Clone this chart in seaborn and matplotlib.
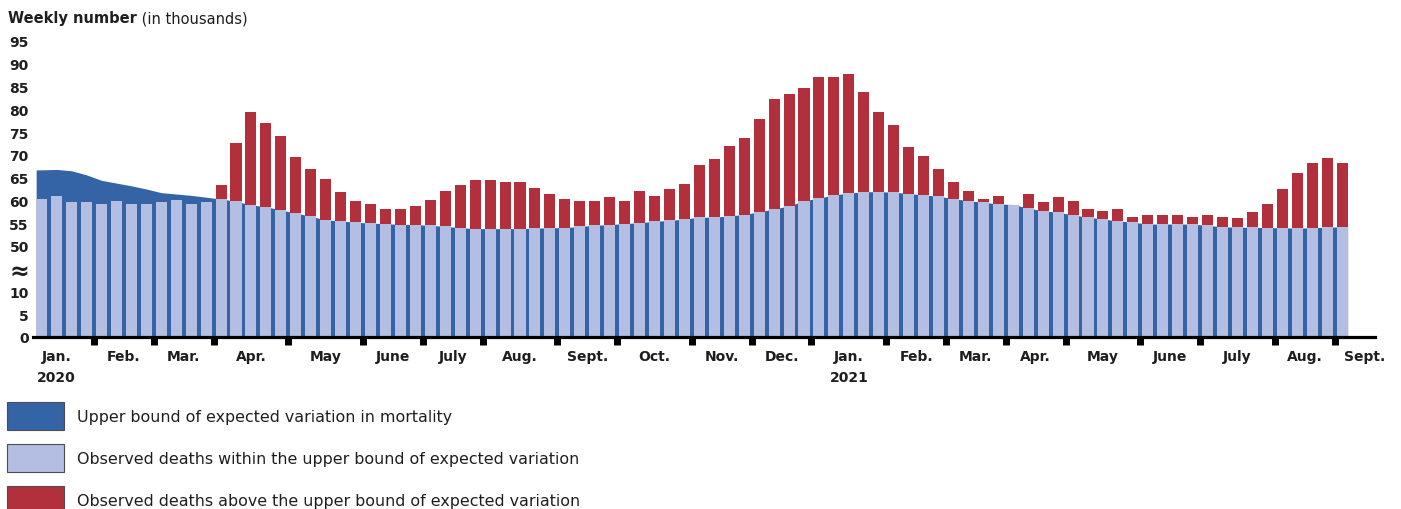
import matplotlib
matplotlib.use("Agg")
import matplotlib.pyplot as plt
import matplotlib.patches as mpatches
import seaborn as sns
import numpy as np
import pandas as pd

# weekly deaths in thousands, week 2 of 2020 to week 35 of 2021
upper_bound = [
    66.7, 66.8, 66.5, 65.6, 64.4, 63.8, 63.2, 62.5, 61.7, 61.4, 61.1, 60.7,
    60.3, 59.8, 59.0, 58.6, 57.9, 57.2, 56.5, 55.7,
    55.5, 55.2, 55.0, 54.9, 54.7, 54.7, 54.5, 54.3, 54.0, 53.8,
    53.8, 53.8, 53.8, 53.9, 54.0, 54.0, 54.3, 54.5, 54.7, 54.9,
    55.1, 55.4, 55.6, 55.9, 56.3, 56.3, 56.6, 56.9, 57.5, 58.1,
    58.8, 59.9, 60.5, 61.2, 61.6, 61.9, 61.9, 61.8, 61.5, 61.2,
    60.9, 60.4, 59.9, 59.6, 59.2, 59.1, 58.3, 57.7, 57.4, 56.8,
    56.3, 55.9, 55.5, 55.2, 54.8, 54.8, 54.8, 54.8, 54.5, 54.2,
    54.1, 54.1, 54.0, 54.0, 53.9, 54.0, 54.1, 54.2,
]
observed = [
    60.4, 61.0, 59.6, 59.6, 59.2, 59.9, 59.2, 59.2, 59.7, 60.1, 59.1, 59.7,
    63.4, 72.6, 79.5, 77.1, 74.2, 69.5, 67.0, 64.7,
    61.9, 59.9, 59.2, 58.2, 58.2, 58.8, 60.1, 62.1, 63.4, 64.5,
    64.5, 64.0, 64.0, 62.8, 61.4, 60.4, 59.9, 59.9, 60.8, 59.9,
    62.0, 60.9, 62.5, 63.6, 67.8, 69.1, 72.0, 73.6, 77.8, 82.2,
    83.3, 84.6, 87.2, 87.2, 87.7, 83.9, 79.3, 76.6, 71.8, 69.7,
    66.9, 64.0, 62.0, 60.4, 61.0, 58.9, 61.4, 59.6, 60.7, 59.9,
    58.1, 57.6, 58.0, 56.3, 56.8, 56.7, 56.7, 56.3, 56.8, 56.3,
    56.1, 57.5, 59.3, 62.6, 66.0, 68.3, 69.3, 68.3,
]

months = ["Jan.", "Feb.", "Mar.", "Apr.", "May", "June", "July", "Aug.",
          "Sept.", "Oct.", "Nov.", "Dec.",
          "Jan.", "Feb.", "Mar.", "Apr.", "May", "June", "July", "Aug.", "Sept."]
month_weeks = [5, 4, 4, 5, 5, 4, 4, 5, 4, 5, 4, 4,
               5, 4, 4, 4, 5, 4, 5, 4, 4]
year_labels = {0: "2020", 12: "2021"}

y_ticks = [0, 5, 10, 15, 50, 55, 60, 65, 70, 75, 80, 85, 90, 95]
y_labels = ["0", "5", "10", "≈", "50", "55", "60", "65", "70", "75", "80",
            "85", "90", "95"]

legend_labels = [
    "Upper bound of expected variation in mortality",
    "Observed deaths within the upper bound of expected variation",
    "Observed deaths above the upper bound of expected variation",
]

DARK = "#3463a6"
LIGHT = "#b4bee2"
RED = "#b1303b"
TEXT = "#1e1e1e"


def squash(y):
    # broken axis: 15..50 collapsed into one step
    y = np.asarray(y, dtype=float)
    return np.where(y <= 15, y, np.where(y >= 50, y - 30, 15 + (y - 15) / 7))


def unsquash(t):
    t = np.asarray(t, dtype=float)
    return np.where(t <= 15, t, np.where(t >= 20, t + 30, 15 + (t - 15) * 7))


sns.set_theme(style="white")
plt.rcParams["font.family"] = ["DejaVu Sans"]
plt.rcParams["text.color"] = TEXT

df = pd.DataFrame({"week": np.arange(len(observed)),
                   "upper": upper_bound, "observed": observed})
df["within"] = df[["observed", "upper"]].min(axis=1)
df["above"] = df["observed"].where(df["observed"] > df["upper"], 0)

fig = plt.figure(figsize=(14.01, 5.10), dpi=100)
ax = fig.add_axes([33 / 1401, 172 / 510, 1342 / 1401, 296 / 510])

bar_w = 0.74
half = bar_w / 2
xs = np.r_[df["week"].iloc[0] - half, df["week"], df["week"].iloc[-1] + half]
ys = np.r_[upper_bound[0], upper_bound, upper_bound[-1]]
ax.fill_between(xs, 0, ys, color=DARK, lw=0, zorder=1)

sns.barplot(data=df, x="week", y="above", color=RED, width=bar_w,
            saturation=1, linewidth=0, errorbar=None, zorder=2, ax=ax)
sns.barplot(data=df, x="week", y="within", color=LIGHT, width=bar_w,
            saturation=1, linewidth=0, errorbar=None, zorder=3, ax=ax)

ax.set_yscale("function", functions=(squash, unsquash))
ax.set_ylim(0, 95)
ax.set_xlim(-0.58, 89.2)
ax.set_xlabel("")
ax.set_ylabel("")

# month ticks
starts = -1 + np.r_[0, np.cumsum(month_weeks)[:-1]]
centers = starts + np.array(month_weeks) / 2 - 0.5
bounds = starts[1:] - 0.5
ax.set_xticks(bounds)
ax.set_xticklabels([])
labels = [m + ("\n" + year_labels[i] if i in year_labels else "")
          for i, m in enumerate(months)]
ax.set_xticks(centers, labels, minor=True)
ax.tick_params(axis="x", which="major", length=6, width=5, color="black",
               direction="out", bottom=True)
ax.tick_params(axis="x", which="minor", length=0, pad=9, labelsize=10,
               labelcolor=TEXT, bottom=True)
plt.setp(ax.get_xticklabels(minor=True), fontweight="bold", linespacing=1.6)

ax.set_yticks(y_ticks, y_labels)
ax.yaxis.set_minor_locator(matplotlib.ticker.NullLocator())
ax.tick_params(axis="y", length=0, pad=3, labelsize=10, labelcolor=TEXT,
               left=True)
plt.setp(ax.get_yticklabels(), fontweight="bold")
for lab in ax.get_yticklabels():
    if lab.get_text() == "≈":
        lab.set_fontsize(17)

for side in ["left", "top", "right"]:
    ax.spines[side].set_visible(False)
ax.spines["bottom"].set_linewidth(2.3)
ax.spines["bottom"].set_color("black")
ax.spines["bottom"].set_zorder(5)
ax.grid(False)

title = fig.text(8 / 1401, 1 - 26 / 510, "Weekly number", fontsize=10.5,
                 fontweight="bold", va="bottom", ha="left")
ax.annotate(" (in thousands)", xy=(1, 0), xycoords=title, va="bottom",
            ha="left", fontsize=10.5, annotation_clip=False)

handles = [
    mpatches.Patch(facecolor=DARK, edgecolor="#4d4d4d", linewidth=0.8,
                   label=legend_labels[0]),
    mpatches.Patch(facecolor=LIGHT, edgecolor="#4d4d4d", linewidth=0.8,
                   label=legend_labels[1]),
    mpatches.Patch(facecolor=RED, edgecolor="#4d4d4d", linewidth=0.8,
                   label=legend_labels[2]),
]
fig.legend(handles=handles, loc="upper left",
           bbox_to_anchor=(7 / 1401, 1 - 403 / 510), frameon=False,
           fontsize=11.4, handlelength=3.6, handleheight=2.39,
           labelspacing=0.85, handletextpad=0.82, borderpad=0,
           borderaxespad=0)

fig.savefig("out.png", dpi=100)
